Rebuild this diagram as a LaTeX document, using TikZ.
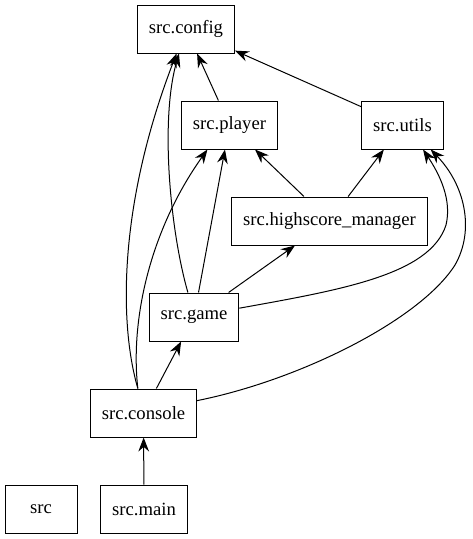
\documentclass[tikz,border=0pt]{standalone}
\usepackage{fontspec}
\setmainfont{Liberation Serif}
\usetikzlibrary{arrows.meta, positioning}

\begin{document}
\begin{tikzpicture}[x=0.75pt, y=-0.75pt,
  mod/.style={draw, line width=0.75pt, minimum height=36pt, minimum width=54pt, inner xsep=8.5pt, font=\fontsize{14}{16}\selectfont},
  dep/.style={line width=0.75pt, -{Stealth[length=10.5pt, width=8pt, inset=3.5pt]}}]
\useasboundingbox (0,0) rectangle (473,539);
% Modules
\node[mod] (config) at (186,29) {src.config};
\node[mod] (player) at (229.5,125) {src.player};
\node[mod] (utils) at (402.5,125) {src.utils};
\node[mod] (highscore) at (329.5,221) {src.highscore\_manager};
\node[mod] (game) at (194,317) {src.game};
\node[mod] (console) at (143.5,413) {src.console};
\node[mod] (src) at (41,509) {src};
\node[mod] (main) at (144,509) {src.main};
% Straight imports
\draw[dep] (player) -- (config);
\draw[dep] (utils) -- (config);
\draw[dep] (highscore) -- (player);
\draw[dep] (highscore) -- (utils);
\draw[dep] (game) -- (player);
\draw[dep] (game) -- (highscore);
\draw[dep] (console) -- (game);
\draw[dep] (main) -- (console);
% Curved imports
\draw[dep] (console.103) .. controls (118,320) and (120,200) .. (config.249);
\draw[dep] (game.104) .. controls (170,230) and (160,120) .. (config.254);
\draw[dep] (console.103) .. controls (130,320) and (150,230) .. (player.228);
\draw[dep] (game.11) .. controls (340,290) and (430,275) .. (446,225) .. controls (452,200) and (440,175) .. (utils.310);
\draw[dep] (console.13) .. controls (300,380) and (420,320) .. (455,265) .. controls (475,230) and (465,185) .. (utils.319);
\end{tikzpicture}
\end{document}
